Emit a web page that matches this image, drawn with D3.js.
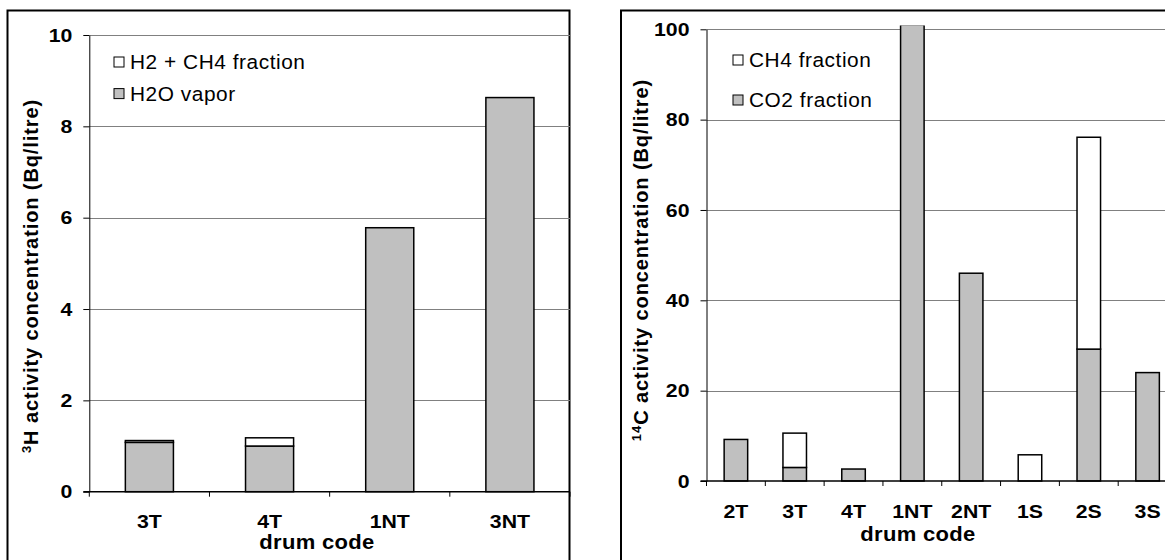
<!DOCTYPE html>
<html>
<head>
<meta charset="utf-8">
<script src="https://cdn.jsdelivr.net/npm/d3@7"></script>
<style>
  html, body { margin: 0; padding: 0; background: #fff; }
  svg { display: block; }
</style>
</head>
<body>
<div id="chart"></div>
<script>
// ---------------- data ----------------
const tritiumCats = ["3T", "4T", "1NT", "3NT"];
const tritiumH2O = [1.08, 1.00, 5.78, 8.63];        // H2O vapor
const tritiumH2CH4 = [0.04, 0.18, 0, 0];            // H2 + CH4 fraction
const tritiumTicks = [0, 2, 4, 6, 8, 10];

const carbonCats = ["2T", "3T", "4T", "1NT", "2NT", "1S", "2S", "3S"];
const carbonCO2 = [9.2, 3.0, 2.65, 101, 46, 0, 29.2, 24];   // CO2 fraction (1NT runs off scale)
const carbonCH4 = [0, 7.6, 0, 0, 0, 5.8, 46.9, 0];          // CH4 fraction
const carbonTicks = [0, 20, 40, 60, 80, 100];

const legendTritium = ["H2 + CH4 fraction", "H2O vapor"];
const legendCarbon = ["CH4 fraction", "CO2 fraction"];
const xTitle = "drum code";

// ---------------- drawing ----------------
const W = 1165, H = 560;
const FONT = "'Liberation Sans', Arial, Helvetica, sans-serif";
const GRAY = "#c0c0c0";
const SX = 1.12; // horizontal stretch of the original rendering

const svg = d3.select("#chart").append("svg")
  .attr("width", W).attr("height", H)
  .attr("font-family", FONT);

function hText(sel, x, y, str, size, weight, anchor, sx, ls) {
  return sel.append("text")
    .attr("transform", `translate(${x},${y}) scale(${sx},1)`)
    .attr("text-anchor", anchor)
    .attr("font-size", size)
    .attr("font-weight", weight)
    .attr("letter-spacing", ls || 0)
    .attr("fill", "#000")
    .text(str);
}

function drawChart(o) {
  const g = svg.append("g");
  const x = d3.scaleBand().domain(o.cats).range([o.x0, o.x1])
    .paddingInner(0.6).paddingOuter(0.3);
  const y = d3.scaleLinear().domain([0, o.max]).range([o.y0, o.y1]);

  // outer frame (bottom edge is beyond the picture)
  g.append("rect")
    .attr("x", o.fx).attr("y", 10.5).attr("width", o.fw).attr("height", 700)
    .attr("fill", "none").attr("stroke", "#000").attr("stroke-width", 2);

  // gridlines
  g.append("g").selectAll("line")
    .data(o.ticks.filter(t => t > 0))
    .join("line")
    .attr("x1", o.x0).attr("x2", o.x1)
    .attr("y1", d => Math.round(y(d)) + 0.5).attr("y2", d => Math.round(y(d)) + 0.5)
    .attr("stroke", "#808080").attr("stroke-width", 1);

  // legend
  const lg = g.append("g");
  o.legend.forEach((name, i) => {
    lg.append("rect")
      .attr("x", o.lx).attr("y", o.ly + i * o.lstep - 10)
      .attr("width", 10).attr("height", 10)
      .attr("fill", i === 0 ? "#fff" : GRAY)
      .attr("stroke", "#000").attr("stroke-width", 1);
    hText(lg, o.lx + 16, o.ly + i * o.lstep + 2, name, 19.5, "normal", "start", 1.07, 0.5);
  });

  // bars
  const table = o.cats.map((c, i) => ({ cat: c, a: o.a[i], b: o.b[i] }));
  const series = d3.stack().keys(["a", "b"])(table);
  const clipId = "clip" + o.id;
  g.append("clipPath").attr("id", clipId).append("rect")
    .attr("x", o.x0).attr("y", o.clipTop)
    .attr("width", o.x1 - o.x0 + 5).attr("height", o.y0 - o.clipTop + 5);
  const bars = g.append("g").attr("clip-path", `url(#${clipId})`);
  series.forEach((s, si) => {
    bars.append("g").selectAll("rect")
      .data(s.filter(d => d[1] - d[0] > 0))
      .join("rect")
      .attr("x", d => x(d.data.cat))
      .attr("width", x.bandwidth())
      .attr("y", d => y(d[1]))
      .attr("height", d => y(d[0]) - y(d[1]))
      .attr("fill", si === 0 ? GRAY : "#fff")
      .attr("stroke", "#000").attr("stroke-width", 1.5);
  });

  // y axis
  const ya = g.append("g").attr("transform", `translate(${o.x0},0)`)
    .call(d3.axisLeft(y).tickValues(o.ticks).tickSize(6).tickSizeOuter(0).tickPadding(11));
  ya.select(".domain").attr("stroke", "#000").attr("stroke-width", 1);
  ya.selectAll(".tick line").attr("stroke", "#000");
  ya.selectAll(".tick text")
    .attr("x", -17 / SX)
    .attr("transform", `scale(${SX},1)`)
    .attr("font-family", FONT).attr("font-size", 19).attr("font-weight", "bold")
    .attr("fill", "#000");

  // x axis line and boundary ticks
  g.append("line")
    .attr("x1", o.x0 - 6).attr("x2", o.x1)
    .attr("y1", o.y0).attr("y2", o.y0)
    .attr("stroke", "#000").attr("stroke-width", 1.5);
  g.append("g").selectAll("line")
    .data(d3.range(o.cats.length + 1))
    .join("line")
    .attr("x1", i => o.x0 + i * x.step()).attr("x2", i => o.x0 + i * x.step())
    .attr("y1", o.y0).attr("y2", o.y0 + 5)
    .attr("stroke", "#000").attr("stroke-width", 1);

  // category labels
  const xa = g.append("g").attr("transform", `translate(0,${o.y0})`)
    .call(d3.axisBottom(x).tickSize(0));
  xa.select(".domain").remove();
  xa.selectAll(".tick text")
    .attr("y", o.catDy).attr("dy", 0)
    .attr("transform", `scale(${SX},1)`)
    .attr("font-family", FONT).attr("font-size", 19).attr("font-weight", "bold")
    .attr("fill", "#000");

  // x title
  hText(g, o.xtX, o.xtY, xTitle, 20, "bold", "middle", 1.1, 0.3);

  // y title (rotated)
  const yt = g.append("text")
    .attr("transform", `translate(${o.ytX},${o.ytY}) rotate(-90)`)
    .attr("text-anchor", "middle")
    .attr("font-size", 20).attr("font-weight", "bold")
    .attr("letter-spacing", 0.9)
    .attr("fill", "#000");
  yt.append("tspan").attr("font-size", 13).attr("dy", -7).text(o.sup);
  yt.append("tspan").attr("dy", 7).text(o.ytitle);
}

drawChart({
  id: "L", cats: tritiumCats, a: tritiumH2O, b: tritiumH2CH4, ticks: tritiumTicks, max: 10,
  x0: 89.3, x1: 570, y0: 491.7, y1: 35, clipTop: 0,
  fx: 7.5, fw: 562,
  legend: legendTritium, lx: 114, ly: 67, lstep: 31.6,
  catDy: 36.5, xtX: 317, xtY: 549,
  ytX: 38, ytY: 276, sup: "3", ytitle: "H activity concentration (Bq/litre)"
});

drawChart({
  id: "R", cats: carbonCats, a: carbonCO2, b: carbonCH4, ticks: carbonTicks, max: 100,
  x0: 706.5, x1: 1177, y0: 481, y1: 29.3, clipTop: 25.5,
  fx: 621, fw: 700,
  legend: legendCarbon, lx: 733, ly: 65, lstep: 40,
  catDy: 37.5, xtX: 918, xtY: 541,
  ytX: 648, ytY: 260, sup: "14", ytitle: "C activity concentration (Bq/litre)"
});
</script>
</body>
</html>
